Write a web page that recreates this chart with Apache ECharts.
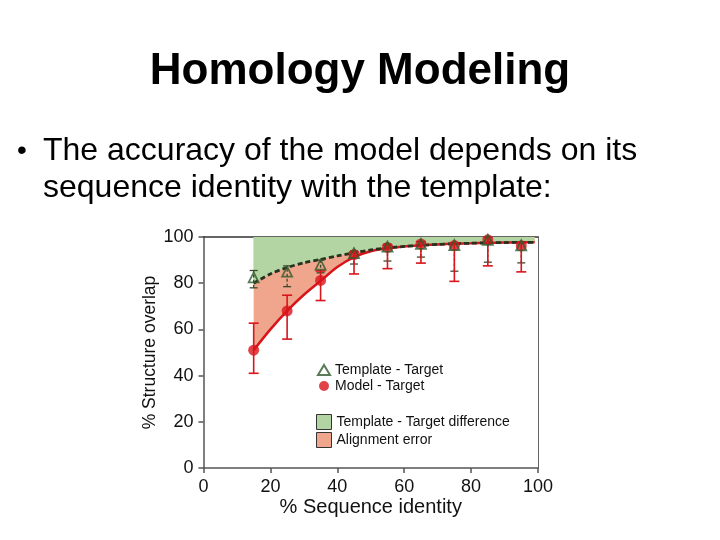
<!DOCTYPE html>
<html>
<head>
<meta charset="utf-8">
<script src="https://cdn.jsdelivr.net/npm/echarts@6/dist/echarts.min.js"></script>
<style>
html,body{margin:0;padding:0;background:#fff;}
#chart{width:720px;height:540px;}
</style>
</head>
<body>
<div id="chart"></div>
<script>
// ---- data ----
const identity = [15, 25, 35, 45, 55, 65, 75, 85, 95];
const templateTarget = [82.5, 85, 88, 93, 95.8, 97, 96.5, 98.8, 96.4];
const templateLow = [78, 78.5, 84.5, 88.3, 89.6, 91.3, 85.2, 89.1, 88.8];
const templateHigh = [85.5, 87.5, 90, 94, 97, 98, 97.5, 100, 97.5];
const modelTarget = [51, 68, 81.2, 92.4, 95.5, 97, 96.3, 98.8, 96.2];
const modelLow = [41, 55.8, 72.5, 84, 86.3, 88.7, 80.8, 87.5, 84.9];
const modelHigh = [62.7, 74.8, 85.3, 93.5, 96.5, 98, 97.5, 100, 97.5];
const fitX = [15, 20, 25, 30, 35, 40, 45, 50, 55, 60, 65, 70, 75, 80, 85, 90, 95, 99];
const templateFit = [80, 84, 86.8, 88.8, 90.3, 91.8, 93.2, 94.4, 95.3, 95.9, 96.4, 96.8, 97.1, 97.3, 97.5, 97.6, 97.7, 97.7];
const modelFit = [51, 60, 68, 75, 81, 87, 91.3, 93.8, 95.1, 95.9, 96.4, 96.8, 97.1, 97.3, 97.5, 97.6, 97.7, 97.7];
const xTicks = [0, 20, 40, 60, 80, 100];
const yTicks = [0, 20, 40, 60, 80, 100];

const FONT = "'Liberation Sans', Arial, Helvetica, sans-serif";
const RED = '#d9141b';
const DARKGREEN = '#2f5a2c';
const GREENFILL = '#b3d5a3';
const SALMON = '#f0a68c';

function pairs(xs, ys) { return xs.map((x, i) => [x, ys[i]]); }
function triples(xs, lo, hi) { return xs.map((x, i) => [x, lo[i], hi[i]]); }

function errorBar(color, dash, capHalf, width) {
  return function (params, api) {
    const x = api.value(0);
    const p1 = api.coord([x, api.value(1)]);
    const p2 = api.coord([x, api.value(2)]);
    const st = { stroke: color, lineWidth: width, lineDash: dash };
    return {
      type: 'group',
      children: [
        { type: 'line', shape: { x1: p1[0], y1: p1[1], x2: p2[0], y2: p2[1] }, style: st },
        { type: 'line', shape: { x1: p1[0] - capHalf, y1: p1[1], x2: p1[0] + capHalf, y2: p1[1] }, style: { stroke: color, lineWidth: width } },
        { type: 'line', shape: { x1: p2[0] - capHalf, y1: p2[1], x2: p2[0] + capHalf, y2: p2[1] }, style: { stroke: color, lineWidth: width } }
      ]
    };
  };
}

const chart = echarts.init(document.getElementById('chart'));
const axisLineStyle = { color: '#555', width: 1.5 };

chart.setOption({
  animation: false,
  backgroundColor: '#fff',
  graphic: [
    { type: 'text', left: 'center', top: 50, style: { text: 'Homology Modeling', font: "bold 44px " + FONT, fill: '#000' } },
    { type: 'text', left: 17, top: 137, style: { text: '•', font: "28px " + FONT, fill: '#000' } },
    { type: 'text', left: 43, top: 135, style: { text: 'The accuracy of the model depends on its', font: "32px " + FONT, fill: '#000' } },
    { type: 'text', left: 43, top: 172, style: { text: 'sequence identity with the template:', font: "32px " + FONT, fill: '#000' } }
  ],
  grid: { left: 203.5, right: 182, top: 237, bottom: 72 },
  legend: [
    {
      orient: 'vertical', left: 317, top: 363, padding: 0, itemGap: 2, itemWidth: 12, itemHeight: 10,
      textStyle: { fontFamily: FONT, fontSize: 14, color: '#111' },
      data: [
        { name: 'Template - Target', icon: 'triangle', itemStyle: { color: '#fff', borderColor: DARKGREEN, borderWidth: 2 } },
        { name: 'Model - Target', icon: 'circle', itemStyle: { color: RED } }
      ]
    },
    {
      orient: 'vertical', left: 316, top: 414, padding: 0, itemGap: 2, itemWidth: 15, itemHeight: 15,
      textStyle: { fontFamily: FONT, fontSize: 14, color: '#111' },
      data: [
        { name: 'Template - Target difference', icon: 'rect', itemStyle: { color: GREENFILL, borderColor: '#333', borderWidth: 1 } },
        { name: 'Alignment error', icon: 'rect', itemStyle: { color: SALMON, borderColor: '#333', borderWidth: 1 } }
      ]
    }
  ],
  xAxis: [
    {
      type: 'value', min: xTicks[0], max: xTicks[xTicks.length - 1], interval: 20,
      name: '% Sequence identity', nameLocation: 'middle', nameGap: 29,
      nameTextStyle: { fontFamily: FONT, fontSize: 20, color: '#111' },
      axisLine: { show: true, lineStyle: axisLineStyle },
      axisTick: { show: true, length: 5, inside: false, lineStyle: axisLineStyle },
      axisLabel: { fontFamily: FONT, fontSize: 18, color: '#111', margin: 10 },
      splitLine: { show: false }
    },
    {
      type: 'value', min: 0, max: 100, position: 'top',
      axisLine: { show: true, onZero: false, lineStyle: { color: '#333', width: 1.5 } },
      axisTick: { show: false }, axisLabel: { show: false }, splitLine: { show: false }
    }
  ],
  yAxis: [
    {
      type: 'value', min: yTicks[0], max: yTicks[yTicks.length - 1], interval: 20,
      name: '% Structure overlap', nameLocation: 'middle', nameGap: 40, nameRotate: 90,
      nameTextStyle: { fontFamily: FONT, fontSize: 17.5, color: '#111' },
      axisLine: { show: true, lineStyle: axisLineStyle },
      axisTick: { show: true, length: 5, inside: false, lineStyle: axisLineStyle },
      axisLabel: { fontFamily: FONT, fontSize: 18, color: '#111', margin: 10 },
      splitLine: { show: false }
    },
    {
      type: 'value', min: 0, max: 100, position: 'right',
      axisLine: { show: true, onZero: false, lineStyle: { color: '#666', width: 1 } },
      axisTick: { show: false }, axisLabel: { show: false }, splitLine: { show: false }
    }
  ],
  series: [
    {
      name: 'Alignment error', type: 'line', z: 1, smooth: 0.3, symbol: 'none',
      data: pairs(fitX, modelFit), lineStyle: { width: 0, color: SALMON }, itemStyle: { color: SALMON },
      areaStyle: { origin: 'end', color: SALMON, opacity: 1 }
    },
    {
      name: 'Template - Target difference', type: 'line', z: 2, smooth: 0.3, symbol: 'none',
      data: pairs(fitX, templateFit), lineStyle: { width: 0, color: GREENFILL }, itemStyle: { color: GREENFILL },
      areaStyle: { origin: 'end', color: GREENFILL, opacity: 1 }
    },
    {
      name: 'Model fit', type: 'line', z: 3, smooth: 0.3, symbol: 'none',
      data: pairs(fitX, modelFit), lineStyle: { width: 2.5, color: RED }
    },
    {
      name: 'Template fit', type: 'line', z: 4, smooth: 0.3, symbol: 'none',
      data: pairs(fitX, templateFit), lineStyle: { width: 2.8, color: '#26321f', type: [5, 3] }
    },
    {
      name: 'Template err', type: 'custom', z: 5, clip: true,
      renderItem: errorBar('#3c4a2c', [3, 2], 4, 1.3),
      data: triples(identity, templateLow, templateHigh)
    },
    {
      name: 'Model err', type: 'custom', z: 6, clip: true,
      renderItem: errorBar(RED, null, 5, 1.6),
      data: triples(identity, modelLow, modelHigh)
    },
    {
      name: 'Model - Target', type: 'scatter', z: 7, symbol: 'circle', symbolSize: 11,
      itemStyle: { color: RED }, data: pairs(identity, modelTarget)
    },
    {
      name: 'Template - Target', type: 'scatter', z: 8, symbol: 'triangle', symbolSize: 10,
      itemStyle: { color: 'rgba(0,0,0,0)', borderColor: DARKGREEN, borderWidth: 1.8 },
      data: pairs(identity, templateTarget)
    }
  ]
});
</script>
</body>
</html>
